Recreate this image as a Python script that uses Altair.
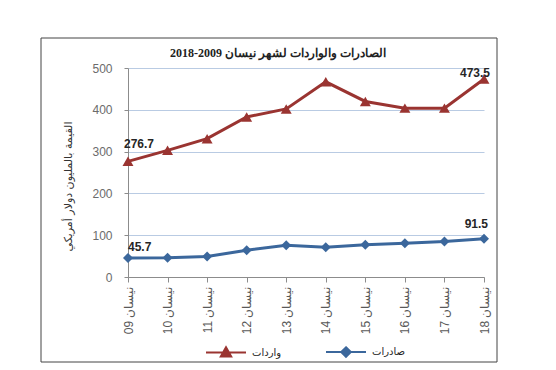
import altair as alt
import pandas as pd

# ---- data ----
years = ["09", "10", "11", "12", "13", "14", "15", "16", "17", "18"]
month = "نيسان"
imports_vals = [276.7, 303, 331, 383, 402, 467, 420, 404, 404, 473.5]   # واردات
exports_vals = [45.7, 46, 49, 64, 76, 71, 77, 81, 85, 91.5]            # صادرات
series_names = ["واردات", "صادرات"]
series_colors = ["#9a3431", "#3b679c"]
series_shapes = ["triangle-up", "diamond"]
legend_paths = [
    "M-1,0H1M0,-0.26L0.26,0.2L-0.26,0.2Z",
    "M-1,0H1M0,-0.24L0.24,0L0,0.24L-0.24,0Z",
]
y_ticks = [0, 100, 200, 300, 400, 500]
title_text = "2018-2009 الصادرات والواردات لشهر نيسان"
y_title = "القيمة بالمليون دولار أمريكي"

cats = [f"{y} {month}" for y in years]
rows = []
for name, vals in zip(series_names, [imports_vals, exports_vals]):
    for c, v in zip(cats, vals):
        rows.append({"cat": c, "series": name, "value": v})
df = pd.DataFrame(rows)

base = alt.Chart(df)
x_enc = alt.X(
    "cat:N", sort=cats,
    scale=alt.Scale(type="point", padding=0),
    axis=alt.Axis(title=None, labelAngle=270, labelFontSize=12, labelColor="#595959",
                  labelFont="Liberation Sans", domainColor="#8c8c8c", tickColor="#8c8c8c",
                  tickSize=5, labelPadding=4, grid=False),
)
y_enc = alt.Y(
    "value:Q", scale=alt.Scale(domain=[0, 500], nice=False),
    axis=alt.Axis(values=y_ticks, title=y_title, titleFontSize=11, titleFontWeight="normal",
                  titleColor="#333333", titleFont="DejaVu Sans", titlePadding=18, titleY=118,
                  labelFontSize=12, labelColor="#6b6b6b", labelFont="Liberation Sans",
                  labelPadding=12, tickSize=4, tickColor="#8c8c8c", domainColor="#8c8c8c",
                  grid=True, gridColor="#b9cbe3", gridWidth=1),
)

layers = []
# frame around whole chart
layers.append(
    alt.Chart(pd.DataFrame({"a": [0]})).mark_rect(filled=False, stroke="#444444", strokeWidth=1).encode(
        x=alt.value(-87), x2=alt.value(369), y=alt.value(-30), y2=alt.value(294)
    )
)
for name, col, shp in zip(series_names, series_colors, series_shapes):
    sub = base.transform_filter(alt.datum.series == name)
    layers.append(sub.mark_line(color=col, strokeWidth=3).encode(x=x_enc, y=y_enc))
    layers.append(sub.mark_point(filled=True, shape=shp, size=100 if shp == "diamond" else 120,
                                 color=col, opacity=1).encode(x=x_enc, y=y_enc))

# data labels: (series, category index, align, dx, dy)
label_specs = [
    (series_names[0], 0, "left", -4, -17),
    (series_names[0], 9, "right", 6, -6),
    (series_names[1], 0, "left", 0, -11),
    (series_names[1], 9, "right", 4, -15),
]
for name, idx, al, dx, dy in label_specs:
    layers.append(
        base.transform_filter((alt.datum.series == name) & (alt.datum.cat == cats[idx]))
        .mark_text(align=al, dx=dx, dy=dy, fontSize=12, fontWeight="bold",
                   font="Liberation Sans", color="#262626")
        .encode(x=x_enc, y=y_enc, text=alt.Text("value:Q", format=".1f"))
    )

leg = alt.Legend(title=None, orient="none", legendX=77, legendY=263, direction="horizontal",
                 symbolSize=1600, symbolStrokeWidth=2, labelFontSize=10, labelColor="#262626",
                 labelFont="DejaVu Sans", columnPadding=40, labelOffset=5, padding=0)
layers.append(
    base.transform_filter("false").mark_point(filled=True, strokeWidth=2, opacity=1).encode(
        x=x_enc, y=y_enc,
        color=alt.Color("series:N", scale=alt.Scale(domain=series_names, range=series_colors), legend=leg),
        stroke=alt.Stroke("series:N", scale=alt.Scale(domain=series_names, range=series_colors), legend=leg),
        shape=alt.Shape("series:N", scale=alt.Scale(domain=series_names, range=legend_paths), legend=leg),
    )
)

chart = alt.layer(*layers).properties(
    width=356, height=209,
    title=alt.TitleParams(title_text, font="Liberation Serif", fontSize=12, fontWeight="bold",
                          color="#222222", anchor="middle", dx=-28, offset=-22),
    padding={"left": 120, "top": 60, "right": 64, "bottom": 86},
    autosize=alt.AutoSizeParams(type="none"),
    background="white",
).configure_view(stroke=None)

chart.save("out.html", embed_options={"renderer": "svg", "actions": False})
